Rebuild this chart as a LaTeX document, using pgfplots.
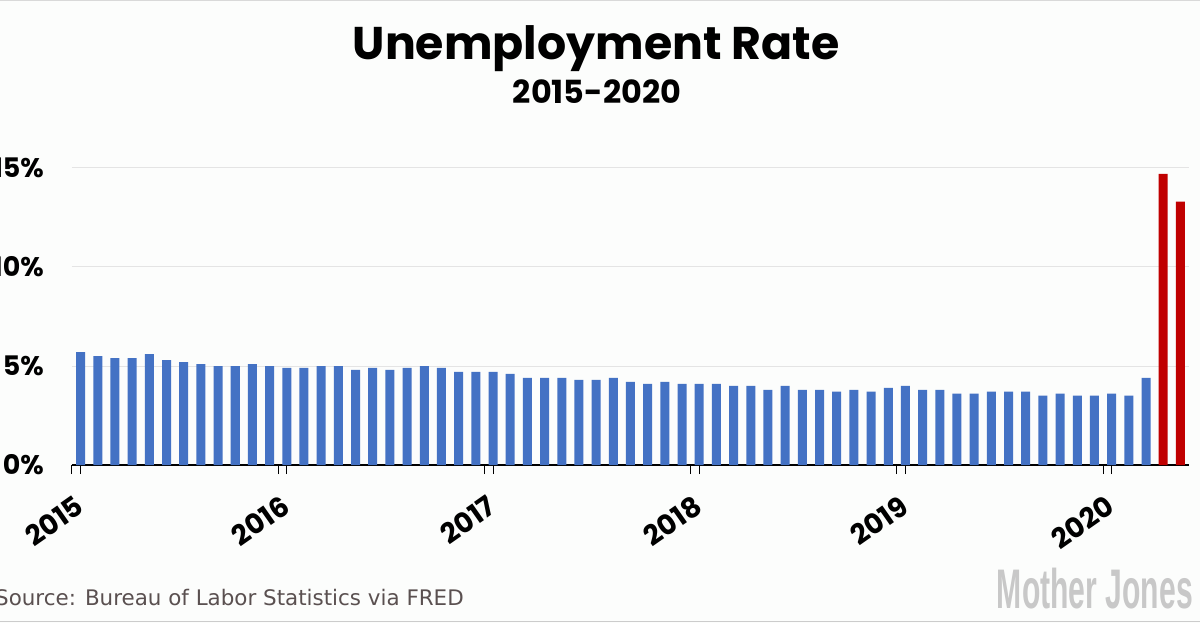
\documentclass[border=0pt]{standalone}
\usepackage{pgfplots}
\pgfplotsset{compat=1.18}
\usepackage{fontspec}
\setmainfont{Poppins}
\newfontfamily\srcfont{DejaVu Sans}
\newfontfamily\logofont{Liberation Sans}

\definecolor{bg}{RGB}{252,253,252}
\definecolor{barblue}{RGB}{68,114,196}
\definecolor{barred}{RGB}{192,0,0}
\definecolor{gridgray}{RGB}{228,228,228}
\definecolor{srcgray}{RGB}{90,80,80}
\definecolor{logogray}{RGB}{200,200,200}

% monthly rate, Jan 2015 - Mar 2020 (index 0..62)
\pgfplotstableread{
i rate
0 5.7
1 5.5
2 5.4
3 5.4
4 5.6
5 5.3
6 5.2
7 5.1
8 5.0
9 5.0
10 5.1
11 5.0
12 4.9
13 4.9
14 5.0
15 5.0
16 4.8
17 4.9
18 4.8
19 4.9
20 5.0
21 4.9
22 4.7
23 4.7
24 4.7
25 4.6
26 4.4
27 4.4
28 4.4
29 4.3
30 4.3
31 4.4
32 4.2
33 4.1
34 4.2
35 4.1
36 4.1
37 4.1
38 4.0
39 4.0
40 3.8
41 4.0
42 3.8
43 3.8
44 3.7
45 3.8
46 3.7
47 3.9
48 4.0
49 3.8
50 3.8
51 3.6
52 3.6
53 3.7
54 3.7
55 3.7
56 3.5
57 3.6
58 3.5
59 3.5
60 3.6
61 3.5
62 4.4
}\before

% Apr and May 2020
\pgfplotstableread{
i rate
63 14.7
64 13.3
}\after

\begin{document}
\begin{tikzpicture}
% page is 1200 x 623 bp, axis corner sits 72bp from left, 465bp from top
\fill[bg] (-72bp,-158bp) rectangle (1128bp,465bp);
\draw[black!20, line width=1.5bp] (-72bp,-156.5bp) -- (1128bp,-156.5bp);
\draw[black!15, line width=1.5bp] (-72bp,464.5bp) -- (1128bp,464.5bp);

\begin{axis}[
    at={(0,0)}, anchor=south west,
    scale only axis,
    width=1117bp, height=297bp,
    xmin=-0.5, xmax=64.5,
    ymin=0, ymax=15,
    clip=false,
    axis x line*=bottom,
    axis y line*=left,
    x axis line style={-, black, line width=1.2bp},
    y axis line style={draw=none},
    ymajorgrids,
    grid style={gridgray, line width=1bp},
    ytick={0,5,10,15},
    yticklabels={0\%,5\%,10\%,15\%},
    ytick style={draw=none},
    yticklabel style={font=\fontsize{27}{27}\selectfont\bfseries, anchor=east, inner sep=0pt, xshift=-28bp},
    xtick={-0.5,11.5,23.5,35.5,47.5,59.5},
    xticklabels={},
    xtick style={draw=black, line width=1bp},
    major tick length=9bp,
    tick align=inside,
    extra x ticks={0,12,24,36,48,60},
    extra x tick labels={2015,2016,2017,2018,2019,2020},
    extra x tick style={tick style={draw=none}},
    xticklabel style={font=\fontsize{28}{28}\selectfont\bfseries, yshift=-20bp, xshift=-7bp, rotate=35, anchor=north east, inner sep=0pt},
    ybar, bar width=9bp,
]
\addplot[fill=barblue, draw=none, bar shift=0pt] table[x=i, y=rate] {\before};
\addplot[fill=barred, draw=none, bar shift=0pt] table[x=i, y=rate] {\after};
\end{axis}

\node[anchor=base, inner sep=0pt] at (524bp,405bp) {\fontsize{46}{50}\selectfont\bfseries Unemployment Rate};
\node[anchor=base, inner sep=0pt] at (525bp,361bp) {\fontsize{32}{34}\selectfont\bfseries 2015-2020};
\node[anchor=base west, inner sep=0pt, text=srcgray] at (-77bp,-140bp) {\srcfont\fontsize{21.5}{22}\selectfont Source: Bureau of Labor Statistics via FRED};
\node[anchor=base east, inner sep=0pt, text=logogray] at (1121bp,-143bp) {\scalebox{0.54}[1]{\logofont\bfseries\fontsize{56}{56}\selectfont Mother Jones}};

\pgfresetboundingbox
\path[use as bounding box] (-72bp,-158bp) rectangle (1128bp,465bp);
\end{tikzpicture}
\end{document}
